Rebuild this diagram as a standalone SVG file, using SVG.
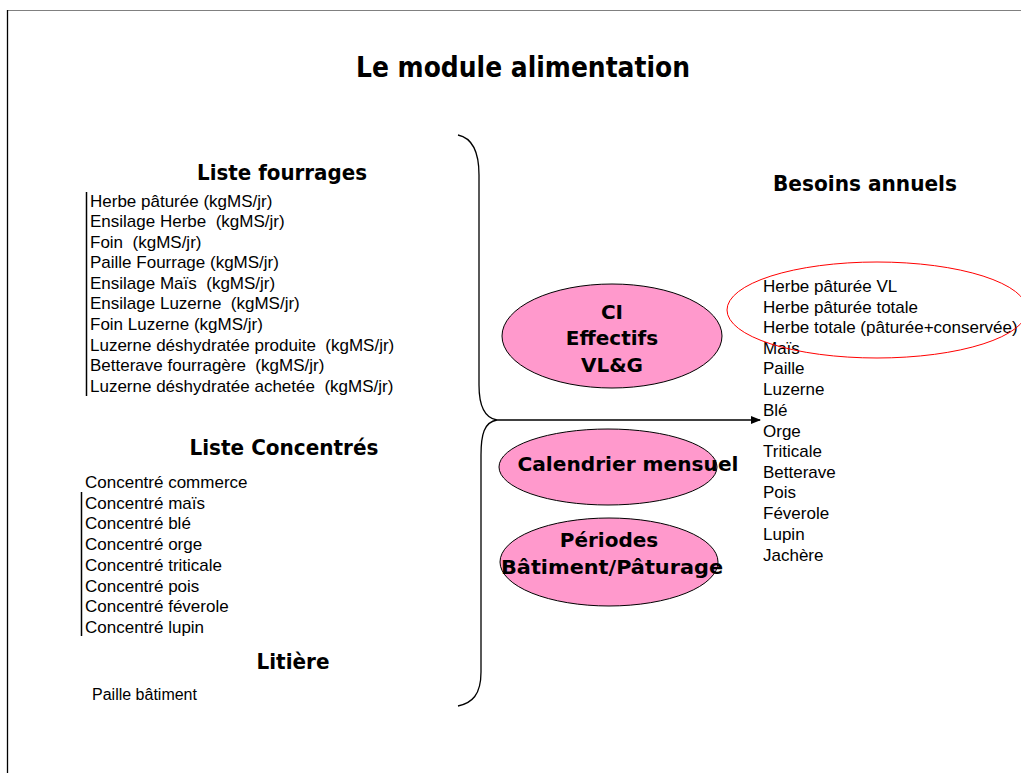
<svg xmlns="http://www.w3.org/2000/svg" width="1021" height="773" viewBox="0 0 1021 773">
<style>
.h{font-family:"DejaVu Sans",Verdana,sans-serif;font-weight:bold;fill:#000}
.t{font-family:"Liberation Sans",Arial,sans-serif;font-size:17px;fill:#000}
.e{fill:#ff99cc;stroke:#000;stroke-width:1}
.ln{fill:none;stroke:#000;stroke-width:1.3}
</style>
<defs>
<marker id="ah" markerWidth="10" markerHeight="8" refX="9" refY="4" orient="auto" markerUnits="userSpaceOnUse">
<path d="M0,0 L10,4 L0,8 Z" fill="#000"/>
</marker>
</defs>
<rect width="1021" height="773" fill="#fff"/>
<g id="frame">
<line x1="7" y1="10.5" x2="1021" y2="10.5" stroke="#808080" stroke-width="1.2"/>
<line x1="7.5" y1="10" x2="7.5" y2="773" stroke="#000" stroke-width="1.3"/>
</g>
<text class="h" x="523" y="77" font-size="29" text-anchor="middle" textLength="334" lengthAdjust="spacingAndGlyphs">Le module alimentation</text>

<g id="fourrages">
<text class="h" x="282" y="180" font-size="21" text-anchor="middle" textLength="170" lengthAdjust="spacingAndGlyphs">Liste fourrages</text>
<line x1="86.5" y1="192" x2="86.5" y2="396" stroke="#000" stroke-width="1.5"/>
<text class="t" x="90" y="207">Herbe pâturée (kgMS/jr)</text>
<text class="t" x="90" y="227" xml:space="preserve">Ensilage Herbe  (kgMS/jr)</text>
<text class="t" x="90" y="248" xml:space="preserve">Foin  (kgMS/jr)</text>
<text class="t" x="90" y="268">Paille Fourrage (kgMS/jr)</text>
<text class="t" x="90" y="289" xml:space="preserve">Ensilage Maïs  (kgMS/jr)</text>
<text class="t" x="90" y="309" xml:space="preserve">Ensilage Luzerne  (kgMS/jr)</text>
<text class="t" x="90" y="330">Foin Luzerne (kgMS/jr)</text>
<text class="t" x="90" y="351" xml:space="preserve">Luzerne déshydratée produite  (kgMS/jr)</text>
<text class="t" x="90" y="371" xml:space="preserve">Betterave fourragère  (kgMS/jr)</text>
<text class="t" x="90" y="392" xml:space="preserve">Luzerne déshydratée achetée  (kgMS/jr)</text>
</g>

<g id="concentres">
<text class="h" x="284" y="455" font-size="21" text-anchor="middle" textLength="189" lengthAdjust="spacingAndGlyphs">Liste Concentrés</text>
<line x1="81.5" y1="492" x2="81.5" y2="636" stroke="#000" stroke-width="1.5"/>
<text class="t" x="85" y="488">Concentré commerce</text>
<text class="t" x="85" y="509">Concentré maïs</text>
<text class="t" x="85" y="529">Concentré blé</text>
<text class="t" x="85" y="550">Concentré orge</text>
<text class="t" x="85" y="571">Concentré triticale</text>
<text class="t" x="85" y="592">Concentré pois</text>
<text class="t" x="85" y="612">Concentré féverole</text>
<text class="t" x="85" y="633">Concentré lupin</text>
</g>

<g id="litiere">
<text class="h" x="293" y="669" font-size="21" text-anchor="middle" textLength="73" lengthAdjust="spacingAndGlyphs">Litière</text>
<text class="t" x="92" y="700" style="font-size:16px">Paille bâtiment</text>
</g>

<g id="connectors">
<path class="ln" d="M458,135 C472,138 479,150 479,175 L479,385 C479,405 484,418 497,420 C484,422 481,435 481,455 L481,672 C481,695 472,703 458,706"/>
<line x1="497" y1="420" x2="760" y2="420" stroke="#000" stroke-width="1.3" marker-end="url(#ah)"/>
</g>

<g id="ci">
<ellipse class="e" cx="612" cy="336" rx="110" ry="52"/>
<text class="h" x="612" y="319" font-size="20" text-anchor="middle">CI</text>
<text class="h" x="612" y="345" font-size="20" text-anchor="middle">Effectifs</text>
<text class="h" x="612" y="372" font-size="20" text-anchor="middle">VL&amp;G</text>
</g>

<g id="calendrier">
<ellipse class="e" cx="608" cy="467" rx="109" ry="38"/>
<text class="h" x="628" y="471" font-size="20" text-anchor="middle" textLength="221" lengthAdjust="spacingAndGlyphs">Calendrier mensuel</text>
</g>

<g id="periodes">
<ellipse class="e" cx="609" cy="562" rx="109" ry="44"/>
<text class="h" x="609" y="547" font-size="20" text-anchor="middle">Périodes</text>
<text class="h" x="612" y="574" font-size="20" text-anchor="middle" textLength="222" lengthAdjust="spacingAndGlyphs">Bâtiment/Pâturage</text>
</g>

<g id="besoins">
<text class="h" x="865" y="191" font-size="21" text-anchor="middle" textLength="184" lengthAdjust="spacingAndGlyphs">Besoins annuels</text>
<text class="t" x="763" y="292">Herbe pâturée VL</text>
<text class="t" x="763" y="313">Herbe pâturée totale</text>
<text class="t" x="763" y="333">Herbe totale (pâturée+conservée)</text>
<text class="t" x="763" y="354">Maïs</text>
<text class="t" x="763" y="374">Paille</text>
<text class="t" x="763" y="395">Luzerne</text>
<text class="t" x="763" y="416">Blé</text>
<text class="t" x="763" y="437">Orge</text>
<text class="t" x="763" y="457">Triticale</text>
<text class="t" x="763" y="478">Betterave</text>
<text class="t" x="763" y="498">Pois</text>
<text class="t" x="763" y="519">Féverole</text>
<text class="t" x="763" y="540">Lupin</text>
<text class="t" x="763" y="561">Jachère</text>
</g>

<g id="highlight">
<ellipse cx="877" cy="310" rx="150" ry="48" fill="none" stroke="#ff0000" stroke-width="1"/>
</g>
</svg>
